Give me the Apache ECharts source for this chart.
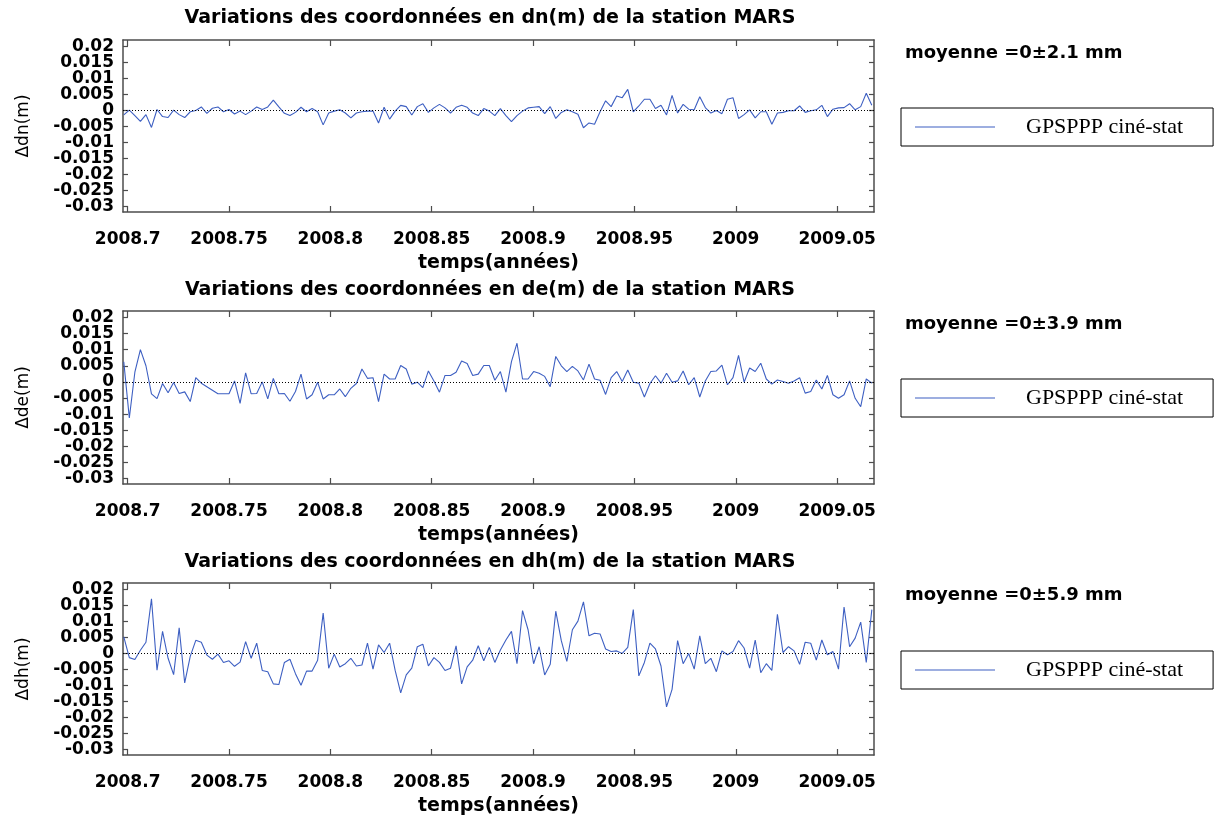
<!DOCTYPE html>
<html>
<head>
<meta charset="utf-8">
<script src="https://cdn.jsdelivr.net/npm/echarts@6/dist/echarts.min.js"></script>
<style>
  html, body { margin: 0; padding: 0; background: #fff; }
  #chart { width: 1221px; height: 818px; }
</style>
</head>
<body>
<div id="chart"></div>
<script>
// Solution epochs: day of year (2008 is a leap year), then the first days of 2009
const days2008 = [
  256, 257, 258, 259, 260, 261, 262, 263, 264, 265,
  266, 267, 268, 269, 270, 271, 272, 273, 274, 275,
  276, 277, 278, 279, 280, 281, 282, 283, 284, 285,
  286, 287, 288, 289, 290, 291, 292, 293, 294, 295,
  296, 297, 298, 299, 300, 301, 302, 303, 304, 305,
  306, 307, 308, 309, 310, 311, 312, 313, 314, 315,
  316, 317, 318, 319, 320, 321, 322, 323, 324, 325,
  326, 327, 328, 329, 330, 331, 332, 333, 334, 335,
  336, 337, 338, 339, 340, 341, 342, 343, 344, 345,
  346, 347, 348, 349, 350, 351, 352, 353, 354, 355,
  356, 357, 358, 359, 360, 361, 362, 363, 364, 365,
  366
];
const days2009 = [
  1, 2, 3, 4, 5, 6, 7, 8, 9, 10,
  11, 12, 13, 14, 15, 16, 17, 18, 19, 20,
  21, 22, 23, 24, 25
];

// North component residuals (m)
const dn = [
  -0.0014, 0.0001, -0.0016, -0.0034, -0.0013, -0.0053, 0.0003, -0.0019, -0.0022, 0.0001,
  -0.0013, -0.0022, -0.0004, 0.0000, 0.0011, -0.0009, 0.0007, 0.0011, -0.0004, 0.0003,
  -0.0011, -0.0002, -0.0013, -0.0002, 0.0011, 0.0003, 0.0011, 0.0032, 0.0011, -0.0009,
  -0.0016, -0.0006, 0.0010, -0.0004, 0.0006, -0.0004, -0.0045, -0.0008, -0.0002, 0.0002,
  -0.0008, -0.0023, -0.0008, -0.0004, -0.0002, -0.0002, -0.0039, 0.0010, -0.0027, -0.0002,
  0.0016, 0.0012, -0.0014, 0.0012, 0.0021, -0.0006, 0.0008, 0.0019, 0.0008, -0.0008,
  0.0010, 0.0016, 0.0010, -0.0008, -0.0016, 0.0006, -0.0002, -0.0016, 0.0006, -0.0016,
  -0.0035, -0.0016, -0.0002, 0.0008, 0.0010, 0.0012, -0.0010, 0.0012, -0.0025, -0.0006,
  0.0002, -0.0004, -0.0012, -0.0054, -0.0039, -0.0043, -0.0004, 0.0030, 0.0012, 0.0045,
  0.0040, 0.0066, -0.0004, 0.0014, 0.0035, 0.0035, 0.0006, 0.0016, -0.0014, 0.0047,
  -0.0008, 0.0019, 0.0004, 0.0002, 0.0043, 0.0009, -0.0008, 0.0000, -0.0010, 0.0035,
  0.0040,
  -0.0025, -0.0013, 0.0002, -0.0023, -0.0004, -0.0004, -0.0043, -0.0008, -0.0006, -0.0001,
  -0.0001, 0.0014, -0.0006, -0.0001, 0.0002, 0.0016, -0.0019, 0.0004, 0.0008, 0.0009,
  0.0021, 0.0002, 0.0012, 0.0054, 0.0016
];

// East component residuals (m); null = no solution that day
const de = [
  0.0062, -0.0112, 0.0030, 0.0100, 0.0050, -0.0037, -0.0052, -0.0005, -0.0034, -0.0002,
  -0.0036, -0.0031, -0.0061, 0.0013, -0.0004, null, null, -0.0037, null, -0.0037,
  0.0003, -0.0067, 0.0028, -0.0037, -0.0036, 0.0000, -0.0053, 0.0011, -0.0037, -0.0036,
  -0.0060, -0.0030, 0.0024, -0.0053, -0.0040, -0.0001, -0.0053, -0.0040, -0.0040, -0.0022,
  -0.0046, -0.0020, -0.0005, 0.0040, 0.0011, 0.0013, -0.0061, 0.0024, 0.0009, 0.0009,
  0.0051, 0.0040, -0.0007, -0.0001, -0.0018, 0.0034, 0.0003, -0.0032, 0.0020, 0.0020,
  0.0030, 0.0065, 0.0057, 0.0020, 0.0024, 0.0051, 0.0051, 0.0005, 0.0032, -0.0032,
  0.0063, 0.0120, 0.0009, 0.0009, 0.0032, 0.0027, 0.0017, -0.0015, 0.0079, 0.0050,
  0.0032, 0.0048, 0.0034, 0.0006, 0.0055, 0.0009, 0.0005, -0.0039, 0.0013, 0.0032,
  0.0001, 0.0037, -0.0001, -0.0004, -0.0047, -0.0005, 0.0019, -0.0004, 0.0027, -0.0001,
  0.0003, 0.0034, -0.0009, 0.0013, -0.0047, 0.0003, 0.0032, 0.0034, 0.0052, -0.0009,
  0.0013,
  0.0082, -0.0001, 0.0043, 0.0032, 0.0058, 0.0009, -0.0007, 0.0006, 0.0001, -0.0004,
  0.0003, 0.0013, -0.0035, -0.0030, 0.0006, -0.0022, 0.0020, -0.0040, -0.0051, -0.0040,
  0.0003, -0.0051, -0.0077, 0.0009, -0.0004
];

// Up component residuals (m)
const dh = [
  0.0052, -0.0013, -0.0019, 0.0010, 0.0035, 0.0171, -0.0052, 0.0069, -0.0015, -0.0066,
  0.0080, -0.0092, -0.0009, 0.0041, 0.0035, -0.0005, -0.0018, -0.0002, -0.0028, -0.0023,
  -0.0040, -0.0027, 0.0037, -0.0015, 0.0032, -0.0053, -0.0057, -0.0095, -0.0097, -0.0028,
  -0.0018, -0.0063, -0.0099, -0.0055, -0.0055, -0.0021, 0.0126, -0.0046, -0.0002, -0.0042,
  -0.0032, -0.0015, -0.0039, -0.0036, 0.0032, -0.0049, 0.0027, 0.0003, 0.0032, -0.0053,
  -0.0123, -0.0067, -0.0046, 0.0021, 0.0029, -0.0039, -0.0013, -0.0028, -0.0053, -0.0046,
  0.0024, -0.0095, -0.0042, -0.0021, 0.0024, -0.0023, 0.0019, -0.0028, 0.0011, 0.0042,
  0.0069, -0.0032, 0.0134, 0.0074, -0.0032, 0.0021, -0.0067, -0.0034, 0.0132, 0.0040,
  -0.0025, 0.0074, 0.0101, 0.0161, 0.0055, 0.0063, 0.0061, 0.0014, 0.0006, 0.0008,
  0.0000, 0.0019, 0.0137, -0.0070, -0.0028, 0.0032, 0.0014, -0.0039, -0.0167, -0.0112,
  0.0040, -0.0032, 0.0000, -0.0049, 0.0055, -0.0032, -0.0015, -0.0057, 0.0008, -0.0004,
  0.0006,
  0.0040, 0.0017, -0.0046, 0.0042, -0.0060, -0.0032, -0.0053, 0.0122, 0.0003, 0.0021,
  0.0008, -0.0034, 0.0035, 0.0032, -0.0021, 0.0042, -0.0004, 0.0006, -0.0049, 0.0145,
  0.0021, 0.0048, 0.0098, -0.0028, 0.0137
];

// Standard deviations quoted beside each panel (mm)
const spreads = ['2.1', '3.9', '5.9'];
const components = ['dn', 'de', 'dh'];

// Tick positions
const xTicks = [2008.7, 2008.75, 2008.8, 2008.85, 2008.9, 2008.95, 2009, 2009.05];
const yTicks = [0.02, 0.015, 0.01, 0.005, 0, -0.005, -0.01, -0.015, -0.02, -0.025, -0.03];

const seriesName = 'GPSPPP ciné-stat';

// Decimal year of each epoch (mid-day)
const epochs = days2008.map(d => 2008 + (d - 0.5) / 366)
  .concat(days2009.map(d => 2009 + (d - 0.5) / 365));

// The y labels sit closer together than their text height, so they are split over
// two stacked left axes (every other label each) to keep every one of them drawn.
const yLabelsA = yTicks.filter((v, k) => k % 2 === 0);
const yLabelsB = yTicks.filter((v, k) => k % 2 === 1);

const X_MIN = 2008.6977, X_MAX = 2009.0682;
const Y_MIN = -0.0317, Y_MAX = 0.0220;

const SANS = '"DejaVu Sans", Verdana, sans-serif';
const SERIF = '"Liberation Serif", "Times New Roman", serif';
const FRAME = '#4d4d4d';
const LINE = '#3d5fc2';

const layout = [
  { top: 40,  height: 172, titleY: 18,  noteY: 53,  legendTop: 108 },
  { top: 311, height: 173, titleY: 290, noteY: 324, legendTop: 379 },
  { top: 583, height: 172, titleY: 562, noteY: 595, legendTop: 651 }
];
const valueSets = [dn, de, dh];

const tickFont = { color: '#000', fontFamily: SANS, fontWeight: 'bold', fontSize: 17 };
const fmtX = v => String(+(+v).toFixed(2));
const fmtY = v => (Math.abs(v) < 1e-9 ? '0' : String(+(+v).toFixed(3)));

const grid = [], xAxis = [], yAxis = [], series = [], legend = [], graphic = [];
const frameLine = () => ({ show: true, onZero: false, lineStyle: { color: FRAME, width: 1.5 } });
const xTick = () => ({ show: true, inside: true, length: 6, customValues: xTicks, lineStyle: { color: FRAME, width: 1.2 } });
const yTick = () => ({ show: true, inside: true, length: 5, customValues: yTicks, lineStyle: { color: FRAME, width: 1.2 } });

layout.forEach((p, i) => {
  grid.push({ left: 123, top: p.top, width: 751, height: p.height });

  // bottom axis (labels) and top axis (frame + ticks)
  xAxis.push({
    type: 'value', gridIndex: i, position: 'bottom', min: X_MIN, max: X_MAX,
    axisLine: frameLine(), axisTick: xTick(),
    axisLabel: Object.assign({ customValues: xTicks, formatter: fmtX, margin: 19,
      showMinLabel: true, showMaxLabel: true }, tickFont),
    splitLine: { show: false },
    name: 'temps(années)', nameLocation: 'middle', nameGap: 42,
    nameTextStyle: { color: '#000', fontFamily: SANS, fontWeight: 'bold', fontSize: 19 }
  });
  xAxis.push({
    type: 'value', gridIndex: i, position: 'top', min: X_MIN, max: X_MAX,
    axisLine: frameLine(), axisTick: xTick(),
    axisLabel: { show: false }, splitLine: { show: false }
  });

  // left axis: frame, ticks, half of the labels and the axis title
  yAxis.push({
    type: 'value', gridIndex: i, position: 'left', min: Y_MIN, max: Y_MAX,
    axisLine: frameLine(), axisTick: yTick(),
    axisLabel: Object.assign({ customValues: yLabelsA, formatter: fmtY, margin: 9 }, tickFont),
    splitLine: { show: false },
    name: 'Δ' + components[i] + '(m)', nameLocation: 'middle', nameRotate: 90, nameGap: 91,
    nameTextStyle: { color: '#000', fontFamily: SANS, fontSize: 17 }
  });
  // left axis: the other half of the labels
  yAxis.push({
    type: 'value', gridIndex: i, position: 'left', offset: 0, min: Y_MIN, max: Y_MAX,
    axisLine: { show: false }, axisTick: { show: false },
    axisLabel: Object.assign({ customValues: yLabelsB, formatter: fmtY, margin: 9 }, tickFont),
    splitLine: { show: false }
  });
  // right axis: frame + ticks
  yAxis.push({
    type: 'value', gridIndex: i, position: 'right', min: Y_MIN, max: Y_MAX,
    axisLine: frameLine(), axisTick: yTick(),
    axisLabel: { show: false }, splitLine: { show: false }
  });

  const values = valueSets[i];
  series.push({
    type: 'line', name: seriesName, xAxisIndex: i * 2, yAxisIndex: i * 3,
    data: epochs.map((t, k) => [t, values[k]]),
    symbol: 'none', showSymbol: false, connectNulls: true,
    lineStyle: { color: LINE, width: 1.1 }, itemStyle: { color: LINE },
    emphasis: { disabled: true },
    markLine: {
      silent: true, symbol: 'none', label: { show: false },
      lineStyle: { color: '#000', type: [1, 2], width: 1 },
      emphasis: { disabled: true },
      data: [{ yAxis: 0 }]
    }
  });

  legend.push({
    left: 901, top: p.legendTop, data: [seriesName], selectedMode: false,
    icon: 'rect', itemWidth: 80, itemHeight: 1,
    itemStyle: { color: LINE },
    padding: [8, 30, 8, 14],
    borderColor: '#000', borderWidth: 1, borderRadius: 0, backgroundColor: '#fff',
    textStyle: { fontFamily: SERIF, fontSize: 22, color: '#000', lineHeight: 21, padding: [0, 0, 0, 26] }
  });

  graphic.push({
    type: 'text', x: 490, y: p.titleY, silent: true,
    style: {
      text: 'Variations des coordonnées en ' + components[i] + '(m) de la station MARS',
      font: 'bold 19px ' + SANS, fill: '#000', textAlign: 'center', textVerticalAlign: 'middle'
    }
  });
  graphic.push({
    type: 'text', x: 905, y: p.noteY, silent: true,
    style: {
      text: 'moyenne =0±' + spreads[i] + ' mm',
      font: 'bold 18px ' + SANS, fill: '#000', textAlign: 'left', textVerticalAlign: 'middle'
    }
  });
});

const chart = echarts.init(document.getElementById('chart'), null, { renderer: 'canvas' });
chart.setOption({
  animation: false,
  backgroundColor: '#fff',
  grid, xAxis, yAxis, series, legend, graphic
});
</script>
</body>
</html>
